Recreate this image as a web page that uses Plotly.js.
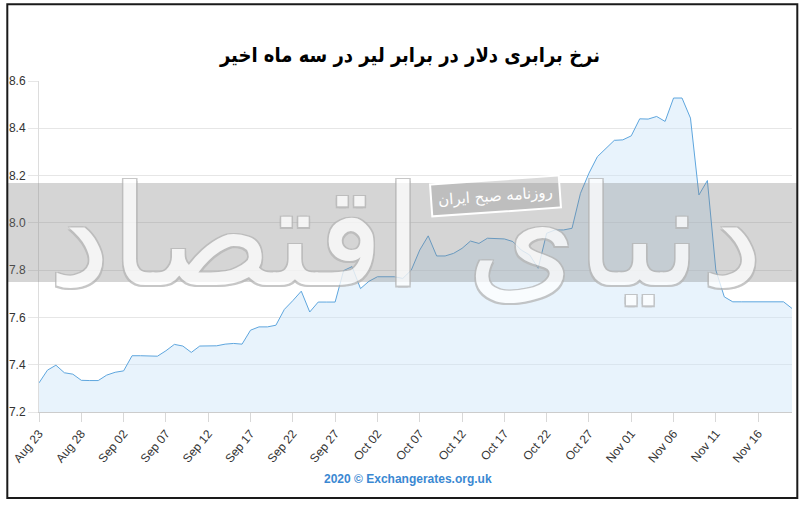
<!DOCTYPE html>
<html>
<head>
<meta charset="utf-8">
<script src="https://cdn.plot.ly/plotly-3.0.1.min.js"></script>
<style>html,body{margin:0;padding:0;background:#fff;}#chart{width:803px;height:509px;}</style>
</head>
<body>
<div id="chart"></div>
<script>
// ---- data ----
var startDate = "2020-08-23";
var rates = [
  7.323, 7.377, 7.398, 7.366, 7.360, 7.334, 7.333, 7.333, 7.356, 7.368,
  7.374, 7.438, 7.438, 7.438, 7.436, 7.459, 7.486, 7.479, 7.452, 7.479,
  7.479, 7.480, 7.487, 7.490, 7.487, 7.546, 7.560, 7.560, 7.567, 7.634,
  7.671, 7.711, 7.623, 7.665, 7.665, 7.665, 7.798, 7.815, 7.722, 7.753,
  7.772, 7.772, 7.772, 7.765, 7.800, 7.885, 7.945, 7.860, 7.860, 7.871,
  7.892, 7.923, 7.913, 7.935, 7.935, 7.932, 7.921, 7.885, 7.864, 7.808,
  7.956, 7.970, 7.970, 7.977, 8.125, 8.210, 8.280, 8.316, 8.349, 8.351,
  8.368, 8.440, 8.439, 8.450, 8.429, 8.528, 8.528, 8.443, 8.118, 8.179,
  7.800, 7.687, 7.666, 7.666, 7.666, 7.666, 7.666, 7.666, 7.666, 7.638
];
var tickDates = ["2020-08-23","2020-08-28","2020-09-02","2020-09-07","2020-09-12","2020-09-17",
  "2020-09-22","2020-09-27","2020-10-02","2020-10-07","2020-10-12","2020-10-17",
  "2020-10-22","2020-10-27","2020-11-01","2020-11-06","2020-11-11","2020-11-16"];
var tickLabels = ["Aug 23","Aug 28","Sep 02","Sep 07","Sep 12","Sep 17","Sep 22","Sep 27",
  "Oct 02","Oct 07","Oct 12","Oct 17","Oct 22","Oct 27","Nov 01","Nov 06","Nov 11","Nov 16"];
var yTicks = [7.2, 7.4, 7.6, 7.8, 8.0, 8.2, 8.4, 8.6];
var titleText = "نرخ برابری دلار در برابر لیر در سه ماه اخیر";
var sourceText = "2020 © Exchangerates.org.uk";
var watermarkText = "دنیای اقتصاد";
var stampText = "روزنامه صبح ایران";

// consecutive daily dates for the series
var dates = [];
(function(){
  var d = new Date(startDate + "T00:00:00Z");
  for (var i = 0; i < rates.length; i++) {
    dates.push(d.toISOString().slice(0,10));
    d.setUTCDate(d.getUTCDate() + 1);
  }
})();

// ---- layout geometry ----
var W = 803, H = 509;
var M = {l: 39, r: 11, t: 81, b: 97};
var PW = W - M.l - M.r, PH = H - M.t - M.b;
function px(x){ return (x - M.l) / PW; }
function py(y){ return 1 - (y - M.t) / PH; }

var trace = {
  x: dates, y: rates, type: "scatter", mode: "lines",
  line: {color: "#5ea6de", width: 1},
  fill: "tozeroy", fillcolor: "rgba(205,228,248,0.45)",
  hoverinfo: "x+y"
};

var axisFont = {family: "Liberation Sans, Arial, sans-serif", size: 12, color: "#333"};

var layout = {
  width: W, height: H,
  margin: M,
  paper_bgcolor: "#fff", plot_bgcolor: "#fff",
  showlegend: false,
  title: {
    text: "<b>" + titleText + "</b>",
    x: px(410), xref: "paper", xanchor: "center",
    y: 1 - 55 / H, yref: "container", yanchor: "middle",
    font: {family: "DejaVu Sans Condensed, DejaVu Sans, sans-serif", size: 20, color: "#000"}
  },
  xaxis: {
    type: "date",
    range: [dates[0], dates[dates.length - 1]],
    tickvals: tickDates, ticktext: tickLabels,
    tickangle: -50, tickfont: axisFont,
    ticks: "outside", ticklen: 9, tickcolor: "#d8d8d8", tickwidth: 1,
    showgrid: false, zeroline: false,
    showline: true, linecolor: "#cccccc", linewidth: 1
  },
  yaxis: {
    range: [7.2, 8.6],
    tickvals: yTicks, ticktext: yTicks.map(function(v){ return v.toFixed(1); }),
    tickfont: axisFont,
    ticks: "outside", ticklen: 10, tickcolor: "#e6e6e6",
    showgrid: true, gridcolor: "#e6e6e6", gridwidth: 1,
    zeroline: false, showline: true, linecolor: "#dddddd", linewidth: 1
  },
  shapes: [
    {type: "rect", xref: "paper", yref: "paper", layer: "above",
     x0: px(8), x1: px(797), y0: py(183), y1: py(282),
     fillcolor: "rgba(128,128,128,0.33)", line: {width: 0}},
    {type: "rect", xref: "paper", yref: "paper", layer: "above",
     x0: px(7.3), x1: px(797.3), y0: py(4.3), y1: py(498),
     fillcolor: "rgba(0,0,0,0)", line: {color: "#1a1a1a", width: 2}}
  ],
  annotations: [
    {xref: "paper", yref: "paper", x: px(405), y: py(236), xanchor: "center", yanchor: "middle",
     text: watermarkText, showarrow: false, opacity: 0.75,
     font: {family: "DejaVu Sans, sans-serif", size: 140, color: "#ffffff",
            shadow: "-1.5px -1.5px 0 #b5b5b5, 1.5px -1.5px 0 #b5b5b5, -1.5px 1.5px 0 #b5b5b5, 1.5px 1.5px 0 #b5b5b5"}},
    {xref: "paper", yref: "paper", x: px(495), y: py(196), xanchor: "center", yanchor: "middle",
     text: stampText, showarrow: false, textangle: -4,
     bgcolor: "rgba(150,150,150,0.35)", bordercolor: "#ffffff", borderwidth: 2, borderpad: 6,
     font: {family: "DejaVu Sans, sans-serif", size: 15, color: "#ffffff"}},
    {xref: "paper", yref: "paper", x: px(408), y: py(479), xanchor: "center", yanchor: "middle",
     text: "<b>" + sourceText + "</b>", showarrow: false,
     font: {family: "Liberation Sans Narrow, Liberation Sans, Arial, sans-serif", size: 12, color: "#3a88d2"}}
  ]
};

Plotly.newPlot("chart", [trace], layout, {displayModeBar: false, staticPlot: true});
</script>
</body>
</html>
